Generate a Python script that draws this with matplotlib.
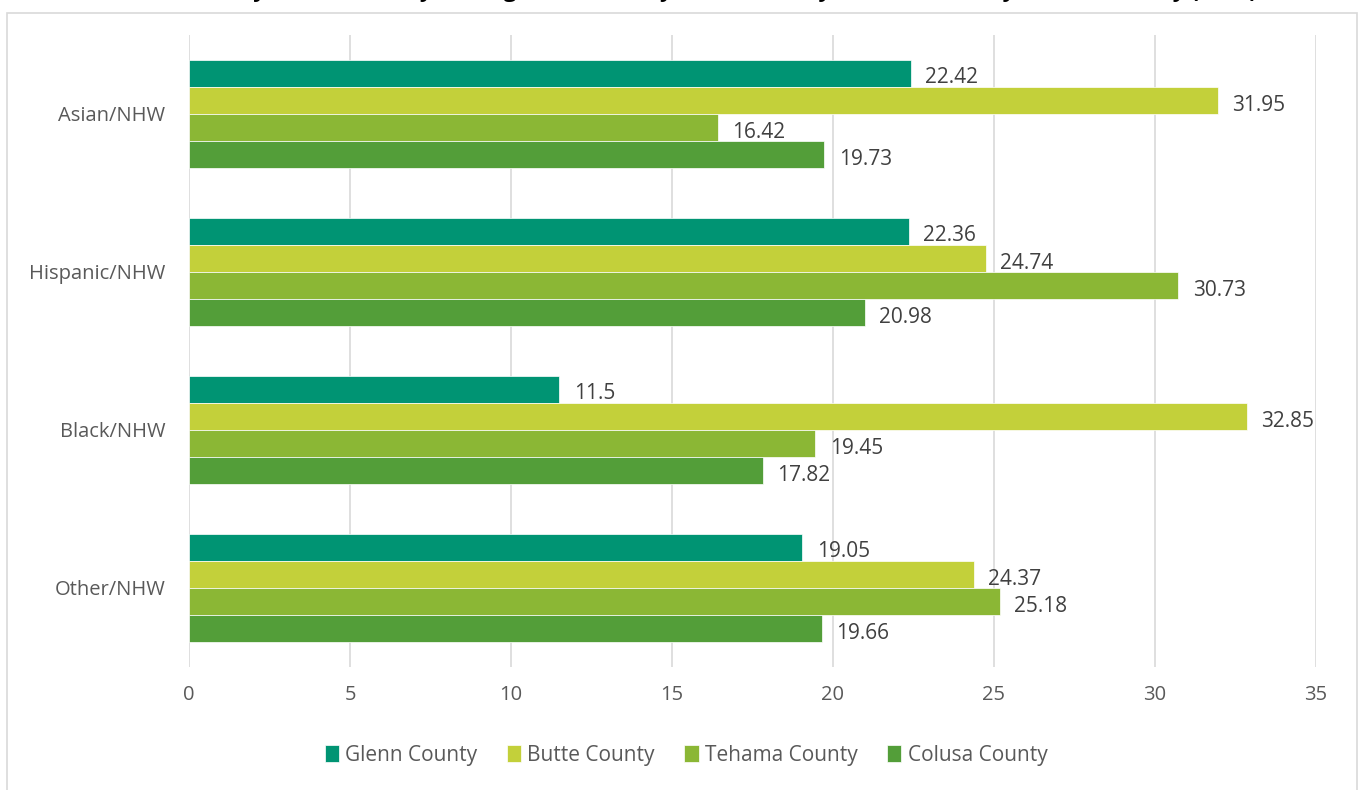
import matplotlib
matplotlib.use("Agg")
import matplotlib.pyplot as plt
from matplotlib.patches import Rectangle
import numpy as np

categories = ["Asian/NHW", "Hispanic/NHW", "Black/NHW", "Other/NHW"]
series = ["Glenn County", "Butte County", "Tehama County", "Colusa County"]
glenn = [22.42, 22.36, 11.5, 19.05]
butte = [31.95, 24.74, 32.85, 24.37]
tehama = [16.42, 30.73, 19.45, 25.18]
colusa = [19.73, 20.98, 17.82, 19.66]
values = [glenn, butte, tehama, colusa]
colors = ["#009473", "#C3D03A", "#8BB735", "#539E39"]
xticks = [0, 5, 10, 15, 20, 25, 30, 35]

plt.rcParams['font.family'] = ['Open Sans', 'DejaVu Sans']
fig = plt.figure(figsize=(13.62, 7.90), dpi=100)
ax = fig.add_axes([0.1388, 0.1557, 0.8274, 0.8000])

fig.patches.append(Rectangle((7/1362, -0.01), 1350/1362, 1 - 13/790 + 0.01,
                             transform=fig.transFigure, fill=False,
                             edgecolor="#D9D9D9", linewidth=1.2))

y = np.arange(len(categories))
h = 0.172
for i, (vals, c, name) in enumerate(zip(values, colors, series)):
    pos = y + (i - 1.5) * h
    ax.barh(pos, vals, height=h, color=c, label=name, zorder=3,
            edgecolor="white", linewidth=0.5)
    for p, v in zip(pos, vals):
        ax.text(v + 0.45, p + 0.03, f"{v:g}", va="center", ha="left",
                fontsize=15, color="#404040")

ax.set_ylim(len(categories) - 0.5, -0.5)
ax.set_xlim(0, 35)
ax.set_xticks(xticks)
ax.set_xticklabels([str(t) for t in xticks], fontsize=14.5, color="#595959")
ax.set_yticks(y)
ax.set_yticklabels(categories, fontsize=14.5, color="#595959")
ax.tick_params(axis='both', length=0)
ax.tick_params(axis='y', pad=17)
ax.tick_params(axis='x', pad=13)
ax.grid(axis='x', color="#D9D9D9", linewidth=1.2, zorder=0)
for s in ax.spines.values():
    s.set_visible(False)

fig.text(0.505, 1 + 3/790, "Rate Ratio by Race/Ethnicity Among Glenn County, Butte County, Tehama County, Colusa County (2019)",
         ha="center", va="baseline", fontsize=16, fontweight="bold", color="black")

leg = ax.legend(loc="center", bbox_to_anchor=(0.441, -0.14), ncol=4, frameon=False,
                fontsize=15, handlelength=0.7, handleheight=0.9, handletextpad=0.3,
                columnspacing=1.4, labelcolor="#595959")

fig.savefig("out.png", dpi=100)
